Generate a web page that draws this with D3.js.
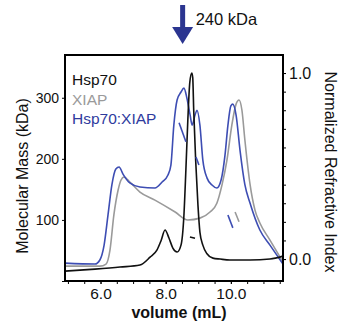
<!DOCTYPE html>
<html>
<head>
<meta charset="utf-8">
<script src="https://cdn.jsdelivr.net/npm/d3@7"></script>
<style>
  body { margin: 0; background: #fff; }
  svg { display: block; font-family: "Liberation Sans", Arial, sans-serif; }
</style>
</head>
<body>
<svg id="chart" width="338" height="324"></svg>
<script>
// refractive index traces (volume in mL, normalized RI)
const hsp70Vol = [4.91, 5.83, 6.60, 7.21, 7.52, 7.73, 7.86, 7.98, 8.10, 8.22, 8.35, 8.47, 8.56, 8.62, 8.68, 8.74, 8.80, 8.83, 8.86, 8.92, 8.99, 9.05, 9.14, 9.26, 9.45, 9.67, 9.97, 10.59, 11.2, 11.6];
const hsp70RI = [-0.065, -0.054, -0.043, -0.032, 0.01, 0.048, 0.10, 0.156, 0.113, 0.059, 0.038, 0.075, 0.237, 0.48, 0.75, 0.95, 1.0, 0.975, 0.80, 0.53, 0.29, 0.145, 0.075, 0.03, 0.005, 0.0, -0.005, -0.005, 0.0, 0.016];

const xiapVol = [4.91, 5.98, 6.17, 6.29, 6.41, 6.54, 6.63, 6.72, 6.90, 7.21, 7.67, 8.29, 8.68, 9.05, 9.36, 9.57, 9.73, 9.88, 10.03, 10.16, 10.25, 10.34, 10.43, 10.59, 10.74, 10.89, 11.2, 11.6];
const xiapRI = [-0.038, -0.038, -0.027, 0.048, 0.237, 0.371, 0.425, 0.441, 0.414, 0.36, 0.317, 0.253, 0.21, 0.22, 0.253, 0.30, 0.40, 0.532, 0.72, 0.833, 0.855, 0.80, 0.64, 0.40, 0.263, 0.194, 0.102, -0.016];

const complexVol = [4.91, 5.83, 5.98, 6.11, 6.23, 6.35, 6.47, 6.57, 6.69, 6.90, 7.21, 7.67, 7.89, 8.07, 8.16, 8.25, 8.35, 8.47, 8.56, 8.65, 8.75, 8.81, 8.90, 8.96, 9.05, 9.14, 9.27, 9.42, 9.57, 9.70, 9.82, 9.91, 10.0, 10.06, 10.16, 10.28, 10.43, 10.59, 10.89, 11.2, 11.6];
const complexRI = [-0.022, -0.027, -0.005, 0.075, 0.237, 0.40, 0.484, 0.495, 0.457, 0.409, 0.387, 0.382, 0.414, 0.452, 0.505, 0.72, 0.855, 0.898, 0.919, 0.866, 0.774, 0.72, 0.774, 0.80, 0.72, 0.532, 0.435, 0.398, 0.382, 0.425, 0.559, 0.72, 0.823, 0.833, 0.774, 0.586, 0.40, 0.30, 0.156, 0.075, -0.027];

// molar mass segments (volume in mL, kDa)
const hsp70MassVol = [8.745, 8.90];
const hsp70Mass = [72, 70];
const xiapMassVol = [10.13, 10.25];
const xiapMass = [113, 97];
const complexMassVol = [[8.41, 8.62], [8.93, 9.02], [9.91, 10.06]];
const complexMass = [[259, 228], [203, 190], [108, 87]];

const seriesNames = ["Hsp70", "XIAP", "Hsp70:XIAP"];
const seriesColors = ["#111111", "#9a9a9a", "#3d4db3"];
const legendColors = ["#111111", "#9a9a9a", "#2f3b9e"];

const xTicks = [6.0, 8.0, 10.0];
const massTicks = [100, 200, 300];
const riTicks = [0.0, 1.0];
const arrowVol = 8.52;
const arrowLabel = "240 kDa";

const svg = d3.select("#chart");
const box = { left: 65, right: 283, top: 55, bottom: 281 };

const x = d3.scaleLinear().domain([4.91, 11.6]).range([box.left, box.right]);
const yMass = d3.scaleLinear().domain([0, 370]).range([box.bottom, box.top]);
const yRI = d3.scaleLinear().domain([-0.118, 1.097]).range([box.bottom, box.top]);

const line = (ys) => d3.line()
  .x((d) => x(d[0]))
  .y((d) => ys(d[1]))
  .curve(d3.curveMonotoneX);

const zip = (a, b) => a.map((v, i) => [v, b[i]]);

svg.append("clipPath").attr("id", "clip")
  .append("rect").attr("x", box.left).attr("y", box.top)
  .attr("width", box.right - box.left).attr("height", box.bottom - box.top);

const traces = [
  { pts: zip(xiapVol, xiapRI), color: seriesColors[1] },
  { pts: zip(complexVol, complexRI), color: seriesColors[2] },
  { pts: zip(hsp70Vol, hsp70RI), color: seriesColors[0] },
];

svg.append("g").attr("clip-path", "url(#clip)")
  .selectAll("path.trace")
  .data(traces)
  .join("path")
  .attr("class", "trace")
  .attr("d", (d) => line(yRI)(d.pts))
  .attr("fill", "none")
  .attr("stroke", (d) => d.color)
  .attr("stroke-width", 1.6);

const massSegs = [
  { pts: zip(hsp70MassVol, hsp70Mass), color: seriesColors[0] },
  { pts: zip(xiapMassVol, xiapMass), color: seriesColors[1] },
  ...complexMassVol.map((v, i) => ({ pts: zip(v, complexMass[i]), color: seriesColors[2] })),
];

svg.append("g")
  .selectAll("path.mass")
  .data(massSegs)
  .join("path")
  .attr("class", "mass")
  .attr("d", (d) => d3.line().x((p) => x(p[0])).y((p) => yMass(p[1]))(d.pts))
  .attr("fill", "none")
  .attr("stroke", (d) => d.color)
  .attr("stroke-width", 1.6);

// frame
svg.append("rect")
  .attr("x", box.left).attr("y", box.top)
  .attr("width", box.right - box.left).attr("height", box.bottom - box.top)
  .attr("fill", "none").attr("stroke", "#000").attr("stroke-width", 2);

const font = "Liberation Sans, Arial, sans-serif";

// bottom axis
const xMinor = svg.append("g")
  .attr("transform", `translate(0,${box.bottom})`)
  .call(d3.axisBottom(x).tickValues(d3.range(5.0, 11.6, 0.5)).tickSize(3).tickFormat(""));
const xLab = svg.append("g")
  .attr("transform", `translate(0,${box.bottom})`)
  .call(d3.axisBottom(x).tickValues(xTicks).tickSize(3).tickPadding(4).tickFormat(d3.format(".1f")));
[xMinor, xLab].forEach((g) => g.select(".domain").remove());
xLab.selectAll("text").attr("font-size", 15.5).attr("font-family", font).attr("fill", "#111");

// left axis
const yl = svg.append("g")
  .attr("transform", `translate(${box.left},0)`)
  .call(d3.axisLeft(yMass).tickValues([0, ...massTicks]).tickSize(3).tickPadding(3)
    .tickFormat((d) => (d === 0 ? "" : d)));
yl.select(".domain").remove();
yl.selectAll("text").attr("font-size", 14).attr("font-family", font).attr("fill", "#111");

// right axis
const yrMinor = svg.append("g")
  .attr("transform", `translate(${box.right},0)`)
  .call(d3.axisRight(yRI).tickValues(d3.range(0, 1.01, 0.1)).tickSize(3).tickFormat(""));
const yr = svg.append("g")
  .attr("transform", `translate(${box.right},0)`)
  .call(d3.axisRight(yRI).tickValues(riTicks).tickSize(3).tickPadding(3).tickFormat(d3.format(".1f")));
[yrMinor, yr].forEach((g) => g.select(".domain").remove());
yr.selectAll("text").attr("font-size", 16).attr("font-family", font).attr("fill", "#111");

// axis titles
svg.append("text")
  .attr("transform", `translate(28,${(box.top + box.bottom) / 2 + 8}) rotate(-90)`)
  .attr("text-anchor", "middle")
  .attr("font-size", 16)
  .attr("fill", "#111")
  .text("Molecular Mass (kDa)");

svg.append("text")
  .attr("transform", `translate(325,${(box.top + box.bottom) / 2 + 4}) rotate(90)`)
  .attr("text-anchor", "middle")
  .attr("font-size", 16)
  .attr("fill", "#111")
  .text("Normalized Refractive Index");

svg.append("text")
  .attr("x", (box.left + box.right) / 2 + 5)
  .attr("y", 318)
  .attr("text-anchor", "middle")
  .attr("font-size", 16)
  .attr("font-weight", "bold")
  .attr("fill", "#111")
  .text("volume (mL)");

// legend
svg.append("g")
  .selectAll("text")
  .data(seriesNames)
  .join("text")
  .attr("x", box.left + 7)
  .attr("y", (d, i) => 85 + i * 19.5)
  .attr("font-size", 15.5)
  .attr("fill", (d, i) => legendColors[i])
  .text((d) => d);

// arrow marking 240 kDa
const ax = x(arrowVol);
const arrow = svg.append("g").attr("fill", "#2b3590");
arrow.append("rect").attr("x", ax - 2.5).attr("y", 5).attr("width", 5).attr("height", 25);
arrow.append("path").attr("d", `M${ax - 10.5},27 L${ax + 10.5},27 L${ax},44 Z`);
svg.append("text")
  .attr("x", ax + 13)
  .attr("y", 25)
  .attr("font-size", 16.5)
  .attr("fill", "#111")
  .text(arrowLabel);
</script>
</body>
</html>
